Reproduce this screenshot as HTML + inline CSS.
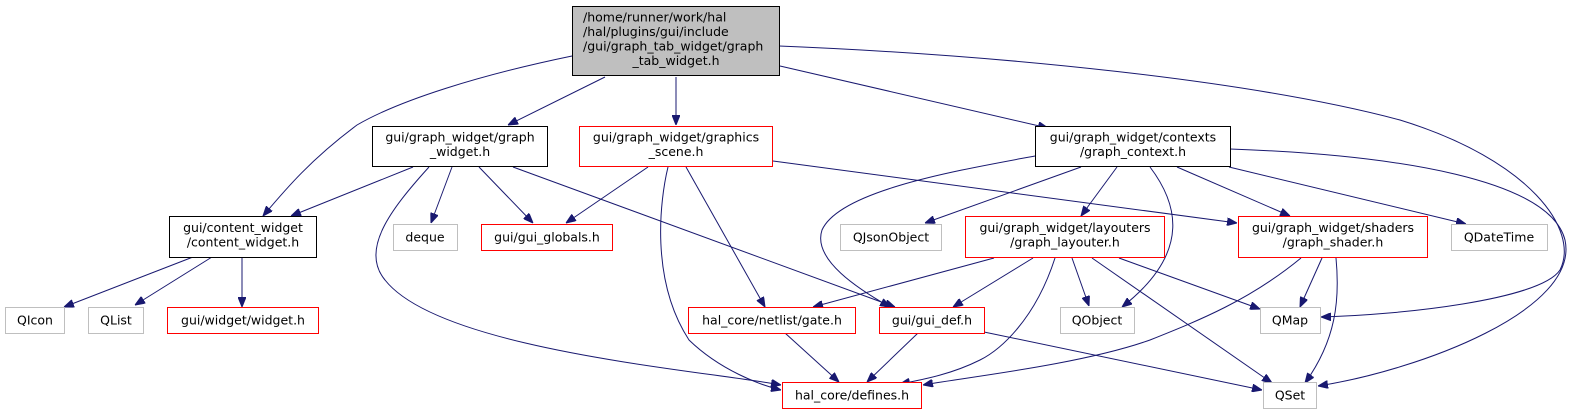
<!DOCTYPE html>
<html><head><meta charset="utf-8"><style>
html,body{margin:0;padding:0;background:#fff;}
svg{display:block;}
text{font-family:"DejaVu Sans","Liberation Sans",sans-serif;font-size:12.5px;fill:#000;}
</style></head><body>
<svg width="1581" height="409" viewBox="0 0 1581 409" xmlns="http://www.w3.org/2000/svg">
<defs>
<marker id="a" markerWidth="10" markerHeight="8" refX="10" refY="4" orient="auto" markerUnits="userSpaceOnUse">
<polygon points="0,0 10,4 0,8" fill="#191970" stroke="#191970"/>
</marker>
</defs>
<g fill="none" stroke="#191970" stroke-width="1" marker-end="url(#a)">
<path d="M572,56 C480,75 400,100 357,125 C310,160 285,190 263,216"/>
<path d="M605,77 L508,125"/>
<path d="M676,77 L676,125"/>
<path d="M780,66 L1048,128"/>
<path d="M779,46 C1000,55 1250,80 1400,120 C1530,160 1580,230 1560,270 C1540,300 1400,315 1321,317"/>
<path d="M413,167 L291,216"/>
<path d="M429,167 C390,210 360,250 385,280 C440,350 700,370 781,385"/>
<path d="M452,167 L431,223"/>
<path d="M479,167 L533,223"/>
<path d="M513,167 L895,307"/>
<path d="M648,167 L566,223"/>
<path d="M668,167 C660,200 650,280 689,340 C720,370 760,385 781,390"/>
<path d="M686,167 L765,307"/>
<path d="M773,161 L1237,223"/>
<path d="M1035,156 C960,170 840,190 822,230 C812,260 860,290 890,307"/>
<path d="M1081,167 L925,223"/>
<path d="M1117,167 L1081,216"/>
<path d="M1150,167 C1175,200 1195,250 1122,307"/>
<path d="M1177,167 L1290,216"/>
<path d="M1229,167 L1466,224"/>
<path d="M1230,149 C1400,155 1550,180 1565,240 C1580,310 1420,370 1318,386"/>
<path d="M994,258 L813,307"/>
<path d="M1033,258 L953,307"/>
<path d="M1055,258 C1035,320 1000,350 980,360 C950,375 920,380 900,384"/>
<path d="M1072,258 L1089,306"/>
<path d="M1092,258 L1272,383"/>
<path d="M1119,258 L1260,309"/>
<path d="M1301,258 C1250,300 1200,320 1150,340 C1080,365 960,378 923,385"/>
<path d="M1322,258 L1300,307"/>
<path d="M1336,258 C1340,300 1336,340 1305,383"/>
<path d="M193,257 L64,307"/>
<path d="M212,257 L135,305"/>
<path d="M242,257 L242,307"/>
<path d="M785,333 L839,382"/>
<path d="M918,333 L867,382"/>
<path d="M984,332 L1262,390"/>
</g>
<rect x="572.5" y="6.5" width="207" height="69" fill="#bfbfbf" stroke="#000"/>
<text x="583" y="21.5">/home/runner/work/hal</text>
<text x="583" y="36">/hal/plugins/gui/include</text>
<text x="583" y="50.5">/gui/graph_tab_widget/graph</text>
<text x="676" y="65" text-anchor="middle">_tab_widget.h</text>

<rect x="372.5" y="126.5" width="175" height="40" fill="#fff" stroke="#000"/>
<text x="460" y="141.5" text-anchor="middle">gui/graph_widget/graph</text>
<text x="460" y="156" text-anchor="middle">_widget.h</text>

<rect x="579.5" y="126.5" width="193" height="40" fill="#fff" stroke="#ff0000"/>
<text x="676" y="141.5" text-anchor="middle">gui/graph_widget/graphics</text>
<text x="676" y="156" text-anchor="middle">_scene.h</text>

<rect x="1035.5" y="126.5" width="195" height="40" fill="#fff" stroke="#000"/>
<text x="1133" y="141.5" text-anchor="middle">gui/graph_widget/contexts</text>
<text x="1133" y="156" text-anchor="middle">/graph_context.h</text>

<rect x="169.5" y="216.5" width="147" height="41" fill="#fff" stroke="#000"/>
<text x="243" y="232" text-anchor="middle">gui/content_widget</text>
<text x="243" y="246.5" text-anchor="middle">/content_widget.h</text>

<rect x="393.5" y="224.5" width="64" height="26" fill="#fff" stroke="#bfbfbf"/>
<text x="425" y="241.5" text-anchor="middle">deque</text>

<rect x="481.5" y="224.5" width="131" height="26" fill="#fff" stroke="#ff0000"/>
<text x="547" y="241.5" text-anchor="middle">gui/gui_globals.h</text>

<rect x="840.5" y="224.5" width="101" height="26" fill="#fff" stroke="#bfbfbf"/>
<text x="891" y="241.5" text-anchor="middle">QJsonObject</text>

<rect x="965.5" y="216.5" width="199" height="41" fill="#fff" stroke="#ff0000"/>
<text x="1065" y="232" text-anchor="middle">gui/graph_widget/layouters</text>
<text x="1065" y="246.5" text-anchor="middle">/graph_layouter.h</text>

<rect x="1238.5" y="216.5" width="189" height="41" fill="#fff" stroke="#ff0000"/>
<text x="1333" y="232" text-anchor="middle">gui/graph_widget/shaders</text>
<text x="1333" y="246.5" text-anchor="middle">/graph_shader.h</text>

<rect x="1451.5" y="224.5" width="96" height="26" fill="#fff" stroke="#bfbfbf"/>
<text x="1499" y="241.5" text-anchor="middle">QDateTime</text>

<rect x="5.5" y="307.5" width="59" height="26" fill="#fff" stroke="#bfbfbf"/>
<text x="35" y="324.5" text-anchor="middle">QIcon</text>

<rect x="88.5" y="307.5" width="55" height="26" fill="#fff" stroke="#bfbfbf"/>
<text x="116" y="324.5" text-anchor="middle">QList</text>

<rect x="167.5" y="307.5" width="151" height="26" fill="#fff" stroke="#ff0000"/>
<text x="243" y="324.5" text-anchor="middle">gui/widget/widget.h</text>

<rect x="688.5" y="307.5" width="167" height="26" fill="#fff" stroke="#ff0000"/>
<text x="772" y="324.5" text-anchor="middle">hal_core/netlist/gate.h</text>

<rect x="879.5" y="307.5" width="105" height="26" fill="#fff" stroke="#ff0000"/>
<text x="932" y="324.5" text-anchor="middle">gui/gui_def.h</text>

<rect x="1060.5" y="307.5" width="74" height="26" fill="#fff" stroke="#bfbfbf"/>
<text x="1097" y="324.5" text-anchor="middle">QObject</text>

<rect x="1260.5" y="307.5" width="60" height="26" fill="#fff" stroke="#bfbfbf"/>
<text x="1290" y="324.5" text-anchor="middle">QMap</text>

<rect x="782.5" y="382.5" width="139" height="26" fill="#fff" stroke="#ff0000"/>
<text x="852" y="399.5" text-anchor="middle">hal_core/defines.h</text>

<rect x="1263.5" y="382.5" width="53" height="26" fill="#fff" stroke="#bfbfbf"/>
<text x="1290" y="399.5" text-anchor="middle">QSet</text>
</svg>
</body></html>
